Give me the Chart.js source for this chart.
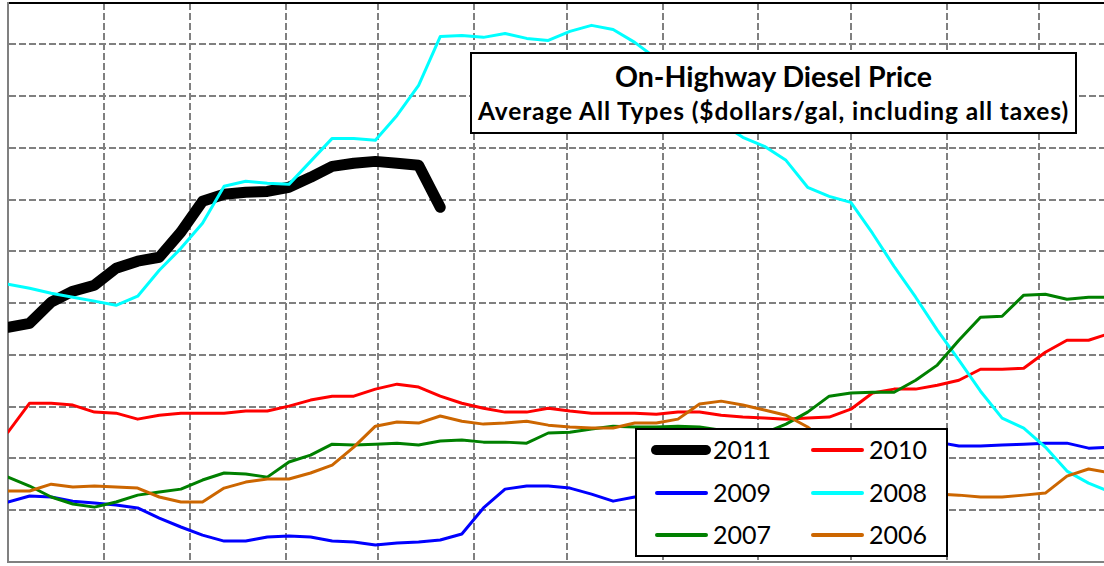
<!DOCTYPE html>
<html>
<head>
<meta charset="utf-8">
<script src="https://cdn.jsdelivr.net/npm/chart.js@4.4.1/dist/chart.umd.min.js"></script>
<style>
  html, body { margin: 0; padding: 0; background: #fff; }
  #wrap { position: relative; width: 1104px; height: 566px; overflow: hidden; font-family: Lato, "Open Sans", sans-serif; color: #000; }
  #titleBox { position: absolute; left: 470px; top: 52px; width: 607px; height: 82px; box-sizing: border-box; border: 2px solid #000; background: #fff; font-weight: bold; }
  #titleBox div { position: absolute; left: 0; right: 0; text-align: center; white-space: nowrap; }
  #titleBox .t1 { top: 5px; font-size: 28.5px; line-height: 34px; }
  #titleBox .t2 { top: 43px; font-size: 24.5px; line-height: 28px; letter-spacing: 0.9px; }
  #legendBox { position: absolute; left: 635px; top: 428px; width: 313px; height: 129px; box-sizing: border-box; border: 2px solid #000; background: #fff; }
  .item { position: absolute; width: 156px; height: 40px; }
  .item .swatch { position: absolute; }
  .item .label { position: absolute; left: 76px; top: 4px; font-size: 25px; line-height: 30px; white-space: nowrap; }
</style>
</head>
<body>
<div id="wrap">
  <canvas id="dieselChart" width="1104" height="566"></canvas>
  <div id="titleBox">
    <div class="t1">On-Highway Diesel Price</div>
    <div class="t2">Average All Types ($dollars/gal, including all taxes)</div>
  </div>
  <div id="legendBox"></div>
</div>
<script>
// week start, as day of the year
const weekDays = [0, 7, 14, 21, 28, 35, 42, 49, 56, 63, 70, 77, 84, 91, 98, 105, 112, 119, 126, 133,
  140, 147, 154, 161, 168, 175, 182, 189, 196, 203, 210, 217, 224, 231, 238, 245, 252, 259, 266, 273,
  280, 287, 294, 301, 308, 315, 322, 329, 336, 343, 350, 357];
// first day of each month (vertical grid)
const monthStarts = [31, 59, 90, 120, 151, 181, 212, 243, 273, 304, 334];
const priceTicks = [2.5, 2.75, 3, 3.25, 3.5, 3.75, 4, 4.25, 4.5, 4.75];

const seriesNames = ['2011', '2010', '2009', '2008', '2007', '2006'];

// $/gal, weekly
const price2011 = [3.384, 3.403, 3.505, 3.558, 3.587, 3.669, 3.703, 3.722, 3.843, 3.992,
  4.026, 4.036, 4.040, 4.060, 4.108, 4.161, 4.176, 4.185, 4.176, 4.166, 3.963];
const price2010 = [2.877, 3.017, 3.017, 3.008, 2.974, 2.969, 2.940, 2.959, 2.969, 2.969,
  2.969, 2.979, 2.979, 3.003, 3.032, 3.051, 3.051, 3.085, 3.109, 3.095,
  3.051, 3.017, 2.993, 2.974, 2.974, 2.993, 2.979, 2.969, 2.969, 2.969,
  2.964, 2.974, 2.974, 2.959, 2.950, 2.945, 2.940, 2.945, 2.950, 2.988,
  3.066, 3.085, 3.085, 3.104, 3.128, 3.181, 3.181, 3.186, 3.263, 3.321, 3.321, 3.355];
const price2009 = [2.540, 2.569, 2.564, 2.544, 2.535, 2.525, 2.511, 2.462, 2.419, 2.380,
  2.351, 2.351, 2.371, 2.375, 2.371, 2.351, 2.347, 2.332, 2.342, 2.347,
  2.356, 2.385, 2.511, 2.602, 2.617, 2.617, 2.607, 2.578, 2.544, 2.564,
  2.578, 2.607, 2.622, 2.646, 2.665, 2.694, 2.713, 2.704, 2.733, 2.766,
  2.795, 2.815, 2.824, 2.829, 2.810, 2.810, 2.815, 2.819, 2.824, 2.824, 2.800, 2.805];
const price2008 = [3.592, 3.572, 3.548, 3.529, 3.510, 3.490, 3.534, 3.659, 3.765, 3.886,
  4.065, 4.089, 4.079, 4.074, 4.185, 4.296, 4.296, 4.287, 4.407, 4.552,
  4.788, 4.793, 4.784, 4.803, 4.779, 4.769, 4.813, 4.842, 4.822, 4.760,
  4.682, 4.586, 4.480, 4.369, 4.301, 4.258, 4.190, 4.060, 4.016, 3.987,
  3.838, 3.678, 3.529, 3.370, 3.225, 3.075, 2.945, 2.897, 2.805, 2.689, 2.631, 2.588];
const price2007 = [2.660, 2.617, 2.564, 2.530, 2.515, 2.540, 2.573, 2.588, 2.602, 2.646,
  2.680, 2.675, 2.660, 2.733, 2.766, 2.819, 2.815, 2.819, 2.824, 2.815,
  2.834, 2.839, 2.829, 2.829, 2.824, 2.873, 2.877, 2.892, 2.906, 2.902,
  2.902, 2.906, 2.902, 2.887, 2.868, 2.873, 2.916, 2.974, 3.051, 3.066,
  3.070, 3.070, 3.128, 3.201, 3.321, 3.432, 3.437, 3.539, 3.543, 3.519, 3.529, 3.529];
const price2006 = [2.593, 2.593, 2.626, 2.612, 2.617, 2.612, 2.607, 2.564, 2.540, 2.540,
  2.607, 2.636, 2.651, 2.651, 2.680, 2.718, 2.805, 2.906, 2.926, 2.921,
  2.955, 2.930, 2.916, 2.921, 2.930, 2.911, 2.902, 2.897, 2.897, 2.921,
  2.921, 2.940, 3.013, 3.027, 3.008, 2.984, 2.959, 2.902, 2.815, 2.718,
  2.636, 2.588, 2.569, 2.578, 2.573, 2.564, 2.564, 2.573, 2.583, 2.665, 2.699, 2.680];

const seriesValues = [price2011, price2010, price2009, price2008, price2007, price2006];
const seriesColors = ['#000000', '#ff0000', '#0000ff', '#00ffff', '#008000', '#cc6600'];

function toPoints(values) {
  return values.map((v, i) => ({ x: weekDays[i], y: v }));
}

const datasets = seriesNames.map((name, i) => ({
  label: name,
  data: toPoints(seriesValues[i]),
  borderColor: seriesColors[i],
  borderWidth: i === 0 ? 11 : 3,
  borderCapStyle: 'round',
  borderJoinStyle: 'round',
  pointRadius: 0,
  tension: 0,
  clip: 0,
  order: seriesNames.length - i   // 2011 underneath, 2006 on top
}));

const gridStyle = { color: '#808080', lineWidth: 2, drawTicks: false };

new Chart(document.getElementById('dieselChart'), {
  type: 'line',
  data: { datasets: datasets },
  options: {
    responsive: false,
    animation: false,
    devicePixelRatio: 1,
    events: [],
    layout: { padding: { left: 8, top: 3, right: 0, bottom: 4 }, autoPadding: false },
    plugins: { legend: { display: false }, tooltip: { enabled: false } },
    scales: {
      x: {
        type: 'linear', position: 'bottom', min: 0, max: 355,
        ticks: { display: false },
        grid: gridStyle,
        border: { color: '#808080', width: 2, dash: [7, 3] },
        afterBuildTicks: s => { s.ticks = monthStarts.map(v => ({ value: v })); }
      },
      xTop: {
        type: 'linear', position: 'top', min: 0, max: 355,
        ticks: { display: false },
        grid: { display: false, drawTicks: false },
        border: { color: '#000000', width: 2 }
      },
      y: {
        type: 'linear', min: 2.25, max: 4.95,
        ticks: { display: false },
        grid: gridStyle,
        border: { color: '#808080', width: 2, dash: [7, 3] },
        afterBuildTicks: s => { s.ticks = priceTicks.map(v => ({ value: v })); }
      }
    }
  }
});

// legend inside the plot, two columns by three rows
const legendBox = document.getElementById('legendBox');
const colX = [0, 156];
const rowY = [0, 43, 85];
seriesNames.forEach((name, i) => {
  const item = document.createElement('div');
  item.className = 'item';
  item.style.left = colX[i % 2] + 'px';
  item.style.top = rowY[Math.floor(i / 2)] + 'px';
  const sw = document.createElement('div');
  sw.className = 'swatch';
  const lw = i === 0 ? 10 : 4;
  sw.style.left = (i === 0 ? 14 : 18) + 'px';
  sw.style.width = (i === 0 ? 60 : 53) + 'px';
  sw.style.height = lw + 'px';
  sw.style.top = (20 - lw / 2) + 'px';
  sw.style.borderRadius = (lw / 2) + 'px';
  sw.style.background = seriesColors[i];
  const lab = document.createElement('div');
  lab.className = 'label';
  lab.textContent = name;
  item.appendChild(sw);
  item.appendChild(lab);
  legendBox.appendChild(item);
});
</script>
</body>
</html>
